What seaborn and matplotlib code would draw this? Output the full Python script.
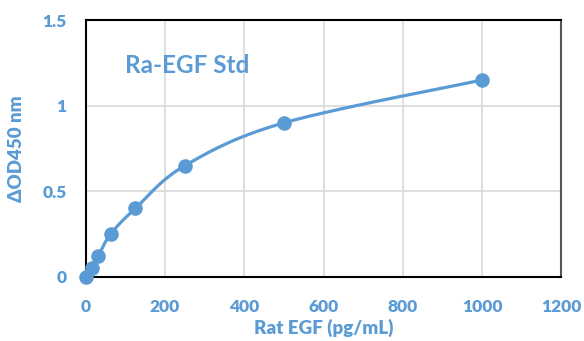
import numpy as np
import pandas as pd
import matplotlib
matplotlib.use("Agg")
import matplotlib.pyplot as plt
import seaborn as sns

# standard curve values
conc = [0, 15.6, 31.25, 62.5, 125, 250, 500, 1000]
od = [0.0, 0.05, 0.12, 0.25, 0.40, 0.65, 0.90, 1.15]
x_ticks = [0, 200, 400, 600, 800, 1000, 1200]
y_ticks = [0, 0.5, 1, 1.5]
y_tick_labels = ["0", "0.5", "1", "1.5"]

BLUE = "#5B9BD5"


def smooth_curve(xs, ys, n=30):
    """Excel-style smoothed line (Catmull-Rom through the points)"""
    p = np.column_stack([xs, ys]).astype(float)
    p = np.vstack([p[0], p, p[-1]])
    out = []
    for i in range(1, len(p) - 2):
        p0, p1, p2, p3 = p[i - 1], p[i], p[i + 1], p[i + 2]
        c1 = p1 + (p2 - p0) / 6
        c2 = p2 - (p3 - p1) / 6
        t = np.linspace(0, 1, n)[:, None]
        seg = ((1 - t) ** 3) * p1 + 3 * ((1 - t) ** 2) * t * c1 + 3 * (1 - t) * t ** 2 * c2 + t ** 3 * p2
        out.append(seg)
    out = np.vstack(out)
    return out[:, 0], out[:, 1]


sns.set_style("white")
plt.rcParams['font.family'] = ['Lato', 'DejaVu Sans']
W = 'heavy'

df = pd.DataFrame({'conc': conc, 'od': od})
sx, sy = smooth_curve(conc, od)
curve = pd.DataFrame({'conc': sx, 'od': sy})

fig, ax = plt.subplots(figsize=(5.84, 3.41), dpi=100)
fig.subplots_adjust(left=0.147, right=0.961, top=0.941, bottom=0.188)

sns.lineplot(data=curve, x='conc', y='od', ax=ax, color=BLUE, linewidth=2.3,
             sort=False, estimator=None)
sns.scatterplot(data=df, x='conc', y='od', ax=ax, color=BLUE, s=110,
                edgecolor=BLUE, linewidth=0, zorder=5, clip_on=False)

ax.set_xlim(0, 1200)
ax.set_ylim(0, 1.5)
ax.set_xticks(x_ticks)
ax.set_yticks(y_ticks)
ax.set_yticklabels(y_tick_labels)
ax.tick_params(axis='both', length=0, labelsize=12.5, labelcolor=BLUE)
ax.tick_params(axis='x', pad=16)
ax.tick_params(axis='y', pad=14)
for lab in ax.get_xticklabels() + ax.get_yticklabels():
    lab.set_fontweight(W)

ax.grid(True, color='#D9D9D9', linewidth=1.2)
ax.set_axisbelow(True)
for side in ['left', 'bottom', 'top', 'right']:
    ax.spines[side].set_visible(True)
    ax.spines[side].set_color('black')
    ax.spines[side].set_linewidth(1.5)
ax.spines['right'].set_color('#555555')

ax.set_xlabel('Rat EGF (pg/mL)', fontsize=13.5, fontweight=W, color=BLUE, labelpad=3)
ax.set_ylabel('ΔOD450 nm', fontsize=13.5, fontweight=W, color=BLUE, labelpad=12)

ax.text(0.082, 0.825, 'Ra-EGF Std', transform=ax.transAxes, fontsize=17.5,
        fontweight='bold', color=BLUE, va='center', ha='left')

fig.savefig('out.png', dpi=100)
